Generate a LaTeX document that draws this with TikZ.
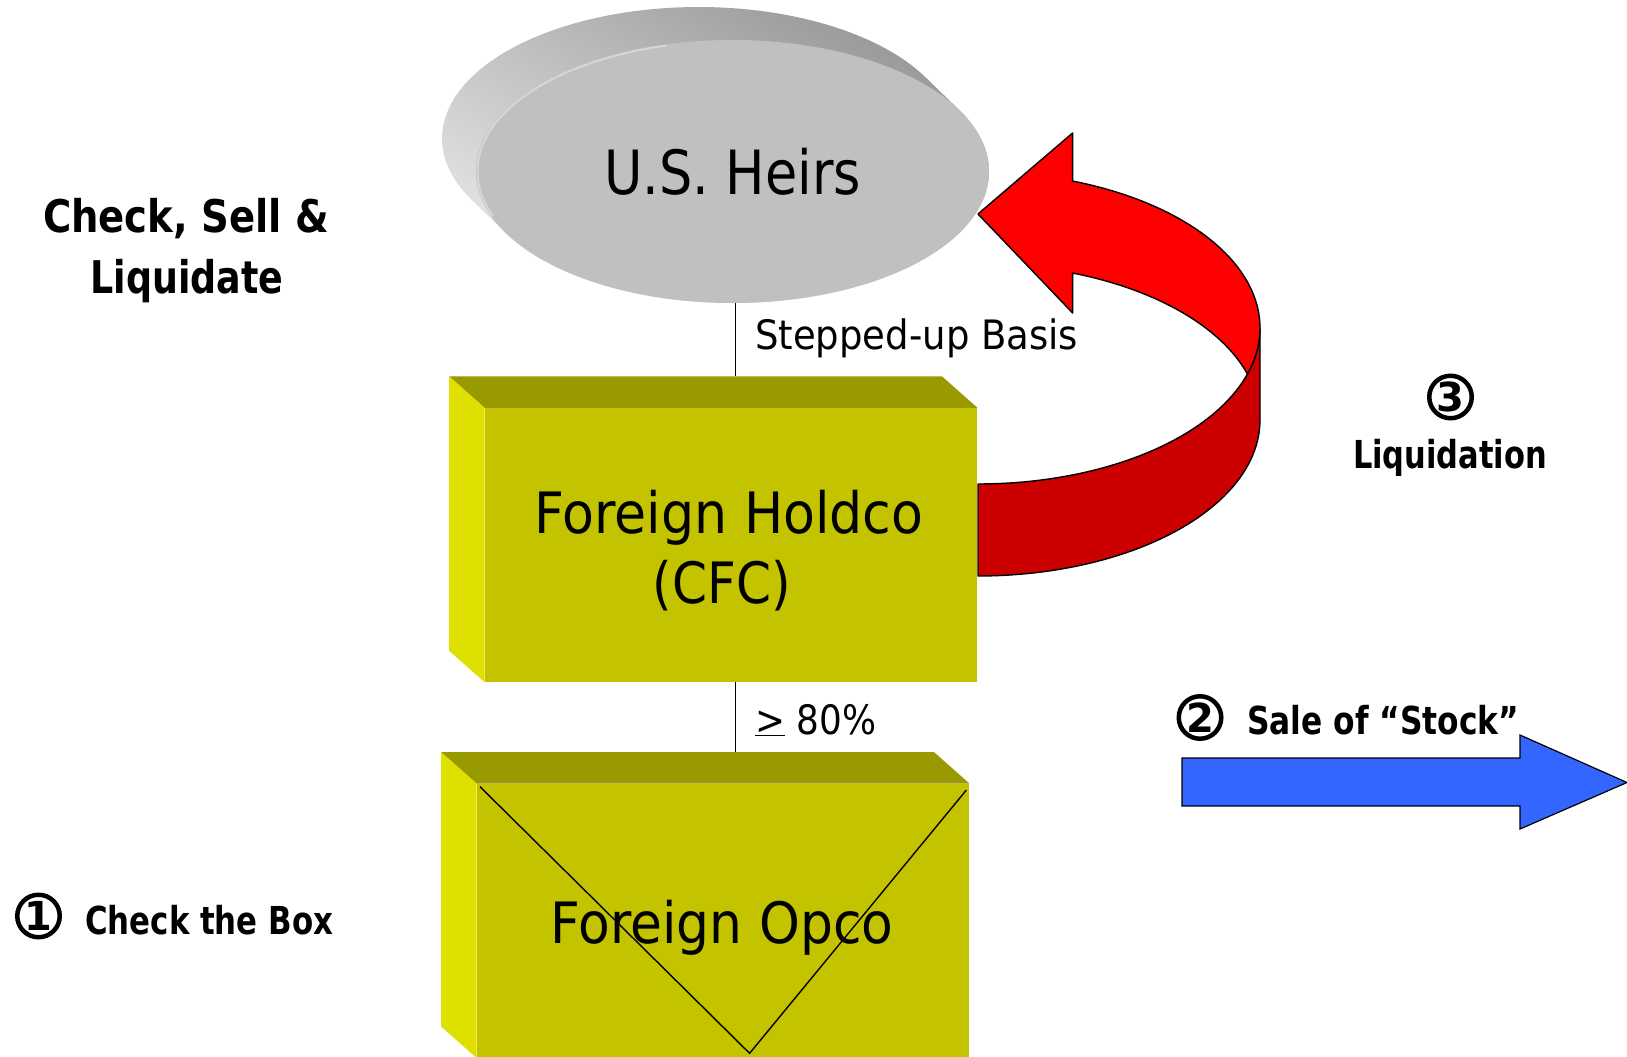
\documentclass[tikz,border=0pt]{standalone}
\usepackage{fontspec}
\setmainfont{DejaVu Sans}
\usepackage{graphicx}
\usetikzlibrary{shapes.geometric,calc}

% squeeze a single line of text horizontally to a given width
\newlength\fitlen
\newcommand\fitw[2]{\settowidth{\fitlen}{#2}\pgfmathsetmacro\fitscale{#1/\fitlen}\scalebox{\fitscale}[1]{#2}}

\definecolor{boxfront}{HTML}{C3C300}
\definecolor{boxtop}{HTML}{999900}
\definecolor{boxside}{HTML}{E0E000}
\definecolor{heirfront}{HTML}{C0C0C0}
\definecolor{heirdark}{HTML}{989898}
\definecolor{heirlight}{HTML}{E6E6E6}
\definecolor{heirrim}{HTML}{D6D6D6}
\definecolor{redA}{HTML}{FF0000}
\definecolor{redB}{HTML}{CC0000}
\definecolor{blueA}{HTML}{3366FF}

\begin{document}
\begin{tikzpicture}[x=1pt,y=-1pt,
  txt/.style={inner sep=0pt, anchor=base},
  boxtxt/.style={txt, font=\fontsize{57}{60}\selectfont},
  smalltxt/.style={txt, font=\fontsize{40.5}{44}\selectfont},
  headtxt/.style={txt, font=\bfseries\fontsize{45}{50}\selectfont},
  steptxt/.style={txt, font=\bfseries\fontsize{38.5}{42}\selectfont},
  numcirc/.style={circle, draw, line width=4.5pt, minimum size=42.5pt, inner sep=0pt,
                  font=\bfseries\fontsize{40}{40}\selectfont},
  entity/.style={fill=boxfront, minimum width=492.5pt, minimum height=274pt, inner sep=0pt},
  conn/.style={line width=1.2pt},
  ribbon/.style={draw=black, line width=1.4pt, line join=round},
  blockarrow/.style={draw=black, line width=1.2pt, fill=blueA, line join=miter}]

\useasboundingbox (0,0) rectangle (1627,1057);
\fill[white] (0,0) rectangle (1627,1057);
\clip (0,0) rectangle (1627,1057);

% ---- U.S. Heirs: extruded disc ----
\shade[top color=heirdark, bottom color=heirlight, shading angle=-30]
  plot[domain=332.2:152.2, samples=90] ({698.5+256.5*cos(\x)},{138.5+131.5*sin(\x)})
  -- plot[domain=152.2:-27.8, samples=90] ({732.5+256.5*cos(\x)},{171.5+131.5*sin(\x)})
  -- cycle;
\node[ellipse, fill=heirfront, minimum width=513pt, minimum height=263pt, inner sep=0pt,
      font=\fontsize{61}{61}\selectfont] (heirs) at (732.5,171.5) {\fitw{257pt}{U.S. Heirs}};
\draw[heirrim, line width=2pt]
  plot[domain=160:255, samples=50] ({732.5+255*cos(\x)},{171.5+130.5*sin(\x)});

% ---- Foreign Holdco block ----
\node[entity] (holdco) at (731,545) {};
\fill[boxtop] (holdco.north west) -- (holdco.north east) -- ++(-35.5,-31.5)
  -- ($(holdco.north west)+(-35.5,-31.5)$) -- cycle;
\fill[boxside] (holdco.north west) -- (holdco.south west) -- ++(-35.5,-31.5)
  -- ($(holdco.north west)+(-35.5,-31.5)$) -- cycle;
\node[boxtxt] (holdcoA) at (729,533) {\fitw{389pt}{Foreign Holdco}};
\node[boxtxt] (holdcoB) at (721.6,603) {\fitw{138pt}{(CFC)}};

% ---- Foreign Opco block (crossed out) ----
\node[entity] (opco) at (723,920.75) {};
\fill[boxtop] (opco.north west) -- (opco.north east) -- ++(-35.5,-31.5)
  -- ($(opco.north west)+(-35.5,-31.5)$) -- cycle;
\fill[boxside] (opco.north west) -- (opco.south west) -- ++(-35.5,-31.5)
  -- ($(opco.north west)+(-35.5,-31.5)$) -- cycle;
\node[boxtxt] (opcoA) at (722,943.5) {\fitw{342.6pt}{Foreign Opco}};
\draw[line width=1.4pt] (480,786.7) -- (749.6,1053.3) -- (966.4,790);

% ---- ownership lines ----
\coordinate (hdtop) at ($(holdco.north)+(4.5,-31.5)$);
\draw[conn] (heirs.south -| hdtop) -- (hdtop);
\coordinate (optop) at ($(opco.north)+(12.5,-31.5)$);
\draw[conn] (holdco.south -| optop) -- (optop);
\node[smalltxt, anchor=base west] (basis) at (755,349) {\fitw{323pt}{Stepped-up Basis}};
\node[smalltxt, anchor=base west] (pct) at (755,734) {\fitw{121pt}{\underline{>} 80\%}};

% ---- liquidation ribbon arrow ----
\draw[ribbon, fill=redB] (978,576)
  -- plot[domain=90:0, samples=50] ({978+282*cos(\x)},{420+156*sin(\x)})
  -- (1260,328)
  -- plot[domain=0:90, samples=50] ({978+282*cos(\x)},{328+156*sin(\x)})
  -- cycle;
\draw[ribbon, fill=redA] (1260,328)
  -- plot[domain=360:289.6, samples=50] ({978+282*cos(\x)},{328+156*sin(\x)})
  -- (1072.6,133) -- (978,214) -- (1072.6,313)
  -- plot[domain=289.6:342.8, samples=40] ({978+282*cos(\x)},{420+156*sin(\x)})
  -- plot[domain=17.2:0, samples=15] ({978+282*cos(\x)},{328+156*sin(\x)})
  -- cycle;

% ---- sale arrow ----
\draw[blockarrow] (1182,758) -- (1520,758) -- (1520,735) -- (1627,782.5)
  -- (1520,829) -- (1520,806) -- (1182,806) -- cycle;

% ---- labels ----
\node[headtxt] (titleA) at (186,232.5) {\fitw{286pt}{Check, Sell \&}};
\node[headtxt] (titleB) at (187,293) {\fitw{193pt}{Liquidate}};

\node[numcirc] (n1) at (38.5,916) {1};
\node[steptxt, anchor=base west] (s1) at (85,934) {\fitw{248pt}{Check the Box}};

\node[numcirc] (n2) at (1200,717.5) {2};
\node[steptxt, anchor=base west] (s2) at (1247,734) {\fitw{272pt}{Sale of “Stock”}};

\node[numcirc] (n3) at (1450.5,397) {3};
\node[steptxt] (s3) at (1450,468.5) {\fitw{194pt}{Liquidation}};
\end{tikzpicture}
\end{document}
